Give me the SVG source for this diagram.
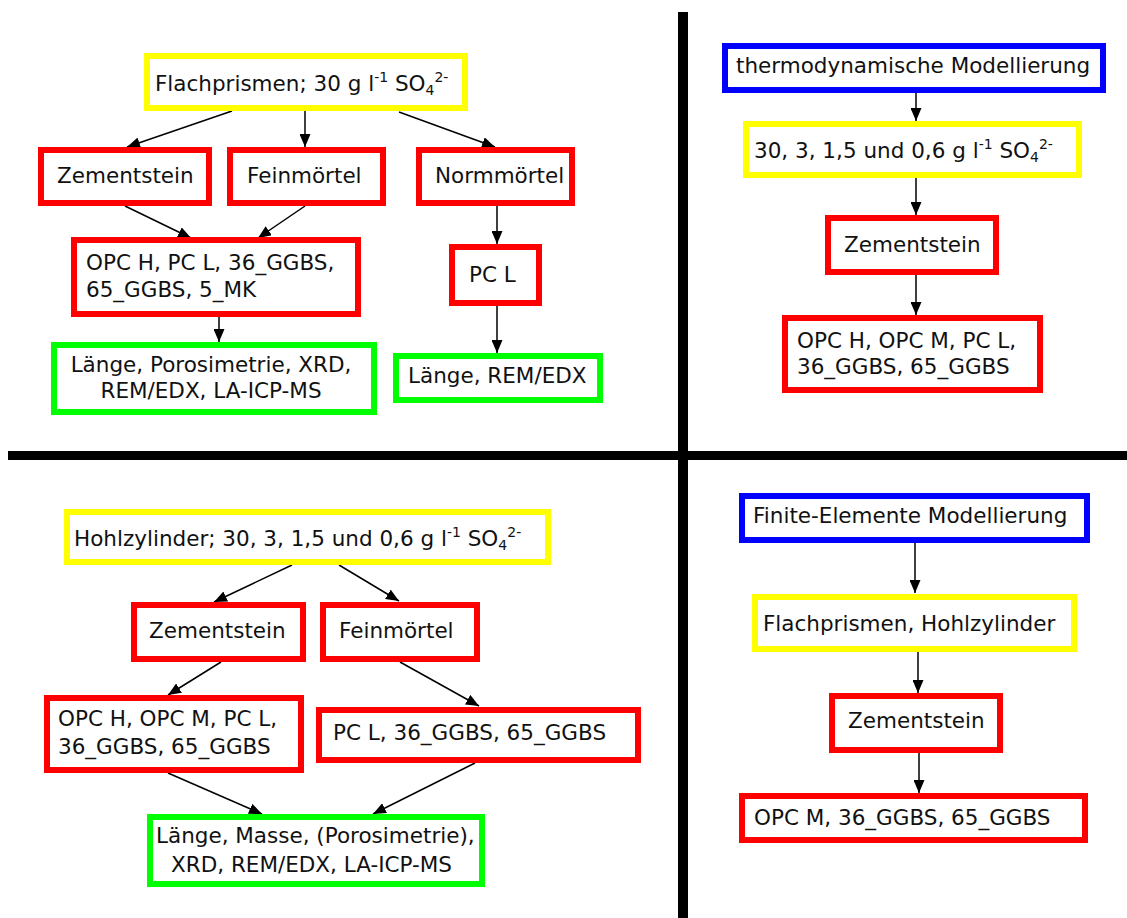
<svg xmlns="http://www.w3.org/2000/svg" width="1127" height="918" viewBox="0 0 1127 918">
<defs>
<marker id="ah" markerUnits="userSpaceOnUse" markerWidth="13" markerHeight="11" refX="13" refY="5.5" orient="auto">
<path d="M0,0 L13,5.5 L0,11 Z" fill="#000"/>
</marker>
<style>
.t{font-family:"DejaVu Sans","Verdana",sans-serif;font-size:21.5px;fill:#111}
.s{font-size:14px}
rect{stroke-width:6}
.r{fill:#fff;stroke:#ff0000}
.y{fill:#fff;stroke:#ffff00}
.g{fill:#fff;stroke:#00ff00}
.b{fill:#fff;stroke:#0000ff}
.c line{stroke:#000;stroke-width:1.5;marker-end:url(#ah)}
</style>
</defs>
<rect x="0" y="0" width="1127" height="918" fill="#fff" style="stroke:none"/>
<g id="dividers">
<rect x="678" y="12" width="10" height="906" fill="#000" style="stroke:none"/>
<rect x="8" y="451" width="1119" height="9" fill="#000" style="stroke:none"/>
</g>
<g class="c" id="connectors">
<line x1="232" y1="111" x2="127" y2="147"/>
<line x1="305" y1="111" x2="305" y2="147"/>
<line x1="399" y1="112" x2="495" y2="147"/>
<line x1="125" y1="206" x2="191" y2="238"/>
<line x1="305" y1="206" x2="258" y2="238"/>
<line x1="219" y1="317" x2="219" y2="342"/>
<line x1="497" y1="206" x2="497" y2="244"/>
<line x1="497" y1="306" x2="497" y2="353"/>
<line x1="916" y1="93" x2="916" y2="121"/>
<line x1="916" y1="178" x2="916" y2="215"/>
<line x1="916" y1="275" x2="916" y2="315"/>
<line x1="292" y1="565" x2="214" y2="602"/>
<line x1="339" y1="565" x2="399" y2="601"/>
<line x1="221" y1="662" x2="168" y2="695"/>
<line x1="400" y1="662" x2="479" y2="706"/>
<line x1="168" y1="773" x2="262" y2="814"/>
<line x1="475" y1="763" x2="373" y2="814"/>
<line x1="915" y1="543" x2="915" y2="593"/>
<line x1="918" y1="652" x2="918" y2="693"/>
<line x1="919" y1="753" x2="919" y2="793"/>
</g>
<g id="tl_flachprismen"><rect class="y" x="147" y="56" width="318" height="52"/><text class="t" x="155" y="91">Flachprismen; 30 g l<tspan class="s" dy="-9">-1</tspan><tspan dy="9"> SO</tspan><tspan class="s" dy="4">4</tspan><tspan class="s" dy="-13">2-</tspan></text></g>
<g id="tl_zementstein"><rect class="r" x="41" y="150" width="168" height="53"/><text class="t" x="57" y="183">Zementstein</text></g>
<g id="tl_feinmoertel"><rect class="r" x="230" y="150" width="153" height="53"/><text class="t" x="247" y="183">Feinmörtel</text></g>
<g id="tl_normmoertel"><rect class="r" x="419" y="150" width="153" height="53"/><text class="t" x="435" y="183">Normmörtel</text></g>
<g id="tl_opc"><rect class="r" x="74" y="240" width="284" height="74"/><text class="t" x="86" y="270">OPC H, PC L, 36_GGBS,</text><text class="t" x="86" y="297">65_GGBS, 5_MK</text></g>
<g id="tl_pcl"><rect class="r" x="452" y="247" width="87" height="56"/><text class="t" x="469" y="282">PC L</text></g>
<g id="tl_green1"><rect class="g" x="54" y="345" width="320" height="67"/><text class="t" x="211" y="372" text-anchor="middle">Länge, Porosimetrie, XRD,</text><text class="t" x="211" y="398" text-anchor="middle">REM/EDX, LA-ICP-MS</text></g>
<g id="tl_green2"><rect class="g" x="396" y="356" width="204" height="44"/><text class="t" x="408" y="383">Länge, REM/EDX</text></g>
<g id="tr_thermo"><rect class="b" x="725" y="46" width="378" height="44"/><text class="t" x="736" y="73">thermodynamische Modellierung</text></g>
<g id="tr_conc"><rect class="y" x="746" y="124" width="333" height="51"/><text class="t" x="754" y="158">30, 3, 1,5 und 0,6 g l<tspan class="s" dy="-9">-1</tspan><tspan dy="9"> SO</tspan><tspan class="s" dy="4">4</tspan><tspan class="s" dy="-13">2-</tspan></text></g>
<g id="tr_zementstein"><rect class="r" x="828" y="218" width="168" height="54"/><text class="t" x="844" y="252">Zementstein</text></g>
<g id="tr_opc"><rect class="r" x="785" y="318" width="255" height="72"/><text class="t" x="797" y="348">OPC H, OPC M, PC L,</text><text class="t" x="797" y="374">36_GGBS, 65_GGBS</text></g>
<g id="bl_hohlzylinder"><rect class="y" x="67" y="512" width="481" height="50"/><text class="t" x="74" y="546">Hohlzylinder; 30, 3, 1,5 und 0,6 g l<tspan class="s" dy="-9">-1</tspan><tspan dy="9"> SO</tspan><tspan class="s" dy="4">4</tspan><tspan class="s" dy="-13">2-</tspan></text></g>
<g id="bl_zementstein"><rect class="r" x="134" y="605" width="169" height="54"/><text class="t" x="149" y="638">Zementstein</text></g>
<g id="bl_feinmoertel"><rect class="r" x="323" y="605" width="154" height="54"/><text class="t" x="339" y="638">Feinmörtel</text></g>
<g id="bl_opc"><rect class="r" x="47" y="698" width="254" height="72"/><text class="t" x="58" y="726">OPC H, OPC M, PC L,</text><text class="t" x="58" y="754">36_GGBS, 65_GGBS</text></g>
<g id="bl_pcl"><rect class="r" x="319" y="710" width="319" height="50"/><text class="t" x="333" y="740">PC L, 36_GGBS, 65_GGBS</text></g>
<g id="bl_green"><rect x="150" y="817" width="332" height="67" fill="#fff" style="stroke:none"/><text class="t" x="156" y="843">Länge, Masse, (Porosimetrie),</text><text class="t" x="171" y="872">XRD, REM/EDX, LA-ICP-MS</text><rect x="150" y="817" width="332" height="67" fill="none" stroke="#00ff00"/></g>
<g id="br_fem"><rect class="b" x="742" y="496" width="345" height="44"/><text class="t" x="753" y="523">Finite-Elemente Modellierung</text></g>
<g id="br_proben"><rect class="y" x="755" y="597" width="319" height="52"/><text class="t" x="763" y="631">Flachprismen, Hohlzylinder</text></g>
<g id="br_zementstein"><rect class="r" x="832" y="696" width="168" height="54"/><text class="t" x="848" y="728">Zementstein</text></g>
<g id="br_opc"><rect class="r" x="742" y="796" width="343" height="44"/><text class="t" x="754" y="825">OPC M, 36_GGBS, 65_GGBS</text></g>
</svg>
